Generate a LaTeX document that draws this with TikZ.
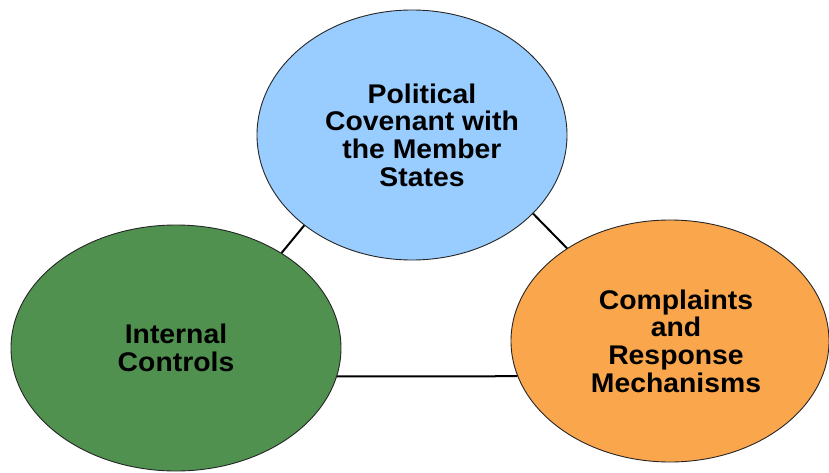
\documentclass[tikz,border=0pt]{standalone}
\usepackage{fontspec}
\setmainfont{Liberation Sans}[FakeStretch=1.05]
\usepackage{xcolor}
\usepackage{tikz}
\usetikzlibrary{shapes.geometric, positioning}
\definecolor{skyblue}{RGB}{153, 204, 255}
\definecolor{leafgreen}{RGB}{80, 145, 80}
\definecolor{warmorange}{RGB}{250, 166, 76}
\tikzstyle{pillar} = [
    ellipse, 
    inner sep=0pt, 
    text centered, 
    align=center, 
    draw=black!85, 
    line width=0.9pt,
    font=\fontsize{27}{27.6}\selectfont\bfseries
]
\tikzstyle{link} = [
    line width=2pt, 
    color=black
]

\begin{document}
\begin{tikzpicture}[x=1pt, y=1pt]
        \useasboundingbox (0,0) rectangle (829,472);
        % Political covenant
        \node[pillar, fill=skyblue, minimum width=310pt, minimum height=250pt] (covenant) at (412,337) {\hspace*{20pt}Political\\\hspace*{20pt}Covenant with\\\hspace*{20pt}the Member\\\hspace*{20pt}States};
        
        % Internal controls
        \node[pillar, fill=leafgreen, minimum width=330pt, minimum height=246pt] (controls) at (176,124) {Internal\\Controls};
        
        % Complaints
        \node[pillar, fill=warmorange, minimum width=318pt, minimum height=242pt] (complaints) at (670,131) {\hspace*{12pt}Complaints\\\hspace*{12pt}and\\\hspace*{12pt}Response\\\hspace*{12pt}Mechanisms};
        
        % Links
        \draw[link] (covenant.220) -- (controls.42);
        \draw[link] (covenant.-33) -- (complaints.138);
        \draw[link] (controls.-10) -- (complaints.193);
    \end{tikzpicture}
\end{document}
